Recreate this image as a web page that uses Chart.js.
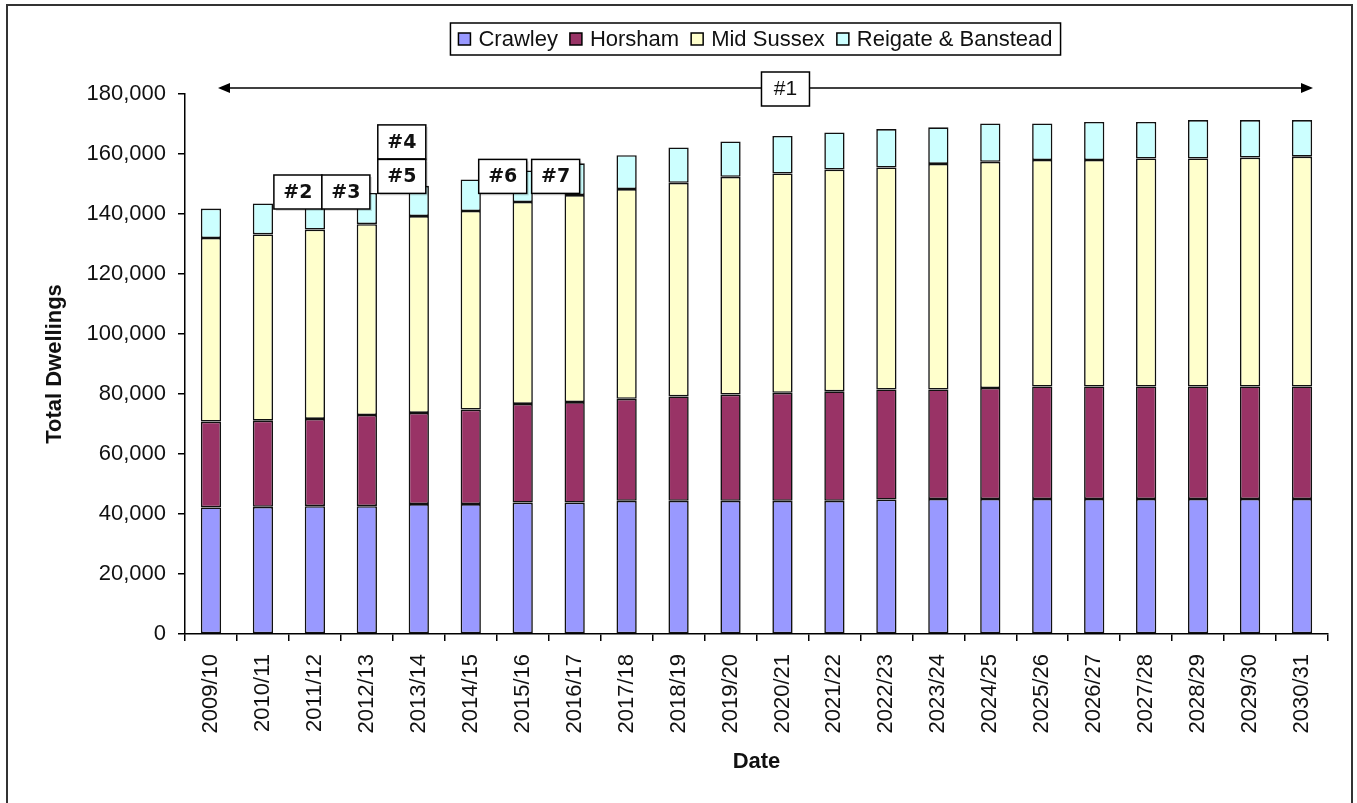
<!DOCTYPE html>
<html>
<head>
<meta charset="utf-8">
<script src="https://cdn.jsdelivr.net/npm/chart.js@4.4.1/dist/chart.umd.min.js"></script>
<style>
  body { margin: 0; background: #fff; }
  #wrap { width: 1357px; height: 803px; }
</style>
</head>
<body>
<div id="wrap"><canvas id="myChart" width="1357" height="803"></canvas></div>
<script>
const years = ["2009/10", "2010/11", "2011/12", "2012/13", "2013/14", "2014/15", "2015/16",
  "2016/17", "2017/18", "2018/19", "2019/20", "2020/21", "2021/22", "2022/23", "2023/24",
  "2024/25", "2025/26", "2026/27", "2027/28", "2028/29", "2029/30", "2030/31"];

// dwellings per district, stacked
const crawley = [42200, 42400, 42600, 42600, 43300, 43300, 43800, 43800, 44400, 44400, 44400,
  44400, 44400, 44800, 45000, 45000, 45000, 45000, 45000, 45000, 45000, 45000];
const horsham = [28600, 28700, 29100, 30400, 30400, 31500, 32900, 33500, 34000, 34800, 35400,
  36000, 36500, 36700, 36500, 37000, 37500, 37500, 37500, 37500, 37500, 37500];
const midSussex = [61200, 62100, 63100, 63600, 65600, 66200, 67300, 69000, 69900, 71200, 72600,
  73100, 73900, 74000, 75200, 75400, 75500, 75500, 76000, 76000, 76300, 76600];
const reigate = [9800, 10300, 10200, 10400, 10100, 10500, 10500, 10600, 11300, 11800, 11800,
  12500, 12400, 12800, 12200, 12800, 12200, 12700, 12200, 12800, 12500, 12200];

const yTicks = [0, 20000, 40000, 60000, 80000, 100000, 120000, 140000, 160000, 180000];

// numbered notes: category they sit against and the value of the box top
const notes = [
  { text: "#2", cat: 2, top: 153000, dx: -41 },
  { text: "#3", cat: 2, top: 153000, dx: 7 },
  { text: "#4", cat: 4, top: 169700, dx: -41 },
  { text: "#5", cat: 4, top: 158200, dx: -41 },
  { text: "#6", cat: 6, top: 158200, dx: -44 },
  { text: "#7", cat: 7, top: 158200, dx: -43 },
];

const FONT = "'Liberation Sans', Arial, sans-serif";
Chart.defaults.font.family = FONT;
Chart.defaults.font.size = 22;
Chart.defaults.color = "#111";

const extras = {
  id: "extras",
  afterDraw(chart) {
    const c = chart.ctx;
    const xs = chart.scales.x;
    const ys = chart.scales.y;
    c.save();

    // outer frame
    c.strokeStyle = "#333";
    c.lineWidth = 2;
    c.strokeRect(7, 5, 1345, 810);

    // legend
    c.font = "22px " + FONT;
    c.textBaseline = "middle";
    const items = chart.data.datasets.map((d) => ({ label: d.label, color: d.backgroundColor }));
    const sw = 12, gapIn = 8, gapOut = 12;
    let total = 0;
    items.forEach((it, i) => {
      it.w = c.measureText(it.label).width;
      total += sw + gapIn + it.w + (i < items.length - 1 ? gapOut : 0);
    });
    const midX = (chart.chartArea.left + chart.chartArea.right) / 2 - 1;
    const boxL = midX - total / 2 - 8, boxR = midX + total / 2 + 8;
    c.fillStyle = "#fff";
    c.fillRect(boxL, 23, boxR - boxL, 32);
    c.strokeStyle = "#000";
    c.lineWidth = 1.5;
    c.strokeRect(boxL, 23, boxR - boxL, 32);
    let x = midX - total / 2;
    items.forEach((it) => {
      c.fillStyle = it.color;
      c.fillRect(x, 33, sw, sw);
      c.strokeRect(x, 33, sw, sw);
      c.fillStyle = "#111";
      c.textAlign = "left";
      c.fillText(it.label, x + sw + gapIn, 40);
      x += sw + gapIn + it.w + gapOut;
    });

    // #1 arrow across whole period
    const ay = ys.getPixelForValue(180000) - 6;
    const ax1 = xs.getPixelForValue(0) + 7;
    const ax2 = xs.getPixelForValue(years.length - 1) + 11;
    c.strokeStyle = "#000";
    c.fillStyle = "#000";
    c.lineWidth = 1.5;
    c.beginPath();
    c.moveTo(ax1 + 8, ay);
    c.lineTo(ax2 - 8, ay);
    c.stroke();
    c.beginPath();
    c.moveTo(ax1, ay); c.lineTo(ax1 + 12, ay - 5); c.lineTo(ax1 + 12, ay + 5); c.closePath();
    c.fill();
    c.beginPath();
    c.moveTo(ax2, ay); c.lineTo(ax2 - 12, ay - 5); c.lineTo(ax2 - 12, ay + 5); c.closePath();
    c.fill();
    const bx = xs.getPixelForValue(11) - 21;
    c.fillStyle = "#fff";
    c.fillRect(bx, ay - 16, 48, 34);
    c.strokeRect(bx, ay - 16, 48, 34);
    c.fillStyle = "#111";
    c.font = "21px " + FONT;
    c.textAlign = "center";
    c.fillText("#1", bx + 24, ay + 1);

    // boxed notes
    c.font = "bold 19px 'DejaVu Sans', Verdana, sans-serif";
    notes.forEach((n) => {
      const l = xs.getPixelForValue(n.cat) + n.dx;
      const t = ys.getPixelForValue(n.top);
      c.fillStyle = "rgba(0,0,0,0.15)";
      c.fillRect(l + 2, t + 2, 48, 34);
      c.fillStyle = "#fff";
      c.fillRect(l, t, 48, 34);
      c.strokeStyle = "#000";
      c.strokeRect(l, t, 48, 34);
      c.fillStyle = "#111";
      c.fillText(n.text, l + 24, t + 18);
    });
    c.restore();
  },
};

const ds = (label, data, color) => ({
  label,
  data,
  backgroundColor: color,
  borderColor: "#111",
  borderWidth: 1.6,
  borderSkipped: false,
  categoryPercentage: 1,
  barPercentage: 0.39,
});

new Chart(document.getElementById("myChart").getContext("2d"), {
  type: "bar",
  data: {
    labels: years,
    datasets: [
      ds("Crawley", crawley, "#9999FF"),
      ds("Horsham", horsham, "#993366"),
      ds("Mid Sussex", midSussex, "#FFFFCC"),
      ds("Reigate & Banstead", reigate, "#CCFFFF"),
    ],
  },
  options: {
    responsive: false,
    animation: false,
    layout: { padding: { top: 94, left: 30, right: 29, bottom: 0 } },
    plugins: { legend: { display: false }, tooltip: { enabled: false } },
    scales: {
      x: {
        stacked: true,
        afterFit: (s) => { s.height = 169; },
        grid: { offset: true, drawOnChartArea: false, drawTicks: true, tickLength: 7, color: "#000", lineWidth: 1.5 },
        border: { display: true, color: "#000", width: 1.5 },
        ticks: { minRotation: 90, maxRotation: 90, padding: 13, autoSkip: false, color: "#111" },
        title: { display: true, text: "Date", font: { weight: "bold", size: 22 }, padding: { top: 0, bottom: 28 }, color: "#111" },
      },
      y: {
        stacked: true,
        min: 0,
        max: 180000,
        afterFit: (s) => { s.width = 155; },
        afterBuildTicks: (s) => { s.ticks = yTicks.map((v) => ({ value: v })); },
        grid: { drawOnChartArea: false, drawTicks: true, tickLength: 7, color: "#000", lineWidth: 1.5 },
        border: { display: true, color: "#000", width: 1.5 },
        ticks: { padding: 12, color: "#111", callback: (v) => v.toLocaleString("en-US") },
        title: { display: true, text: "Total Dwellings", font: { weight: "bold", size: 22 }, padding: { top: 12, bottom: 0 }, color: "#111" },
      },
    },
  },
  plugins: [extras],
});
</script>
</body>
</html>
